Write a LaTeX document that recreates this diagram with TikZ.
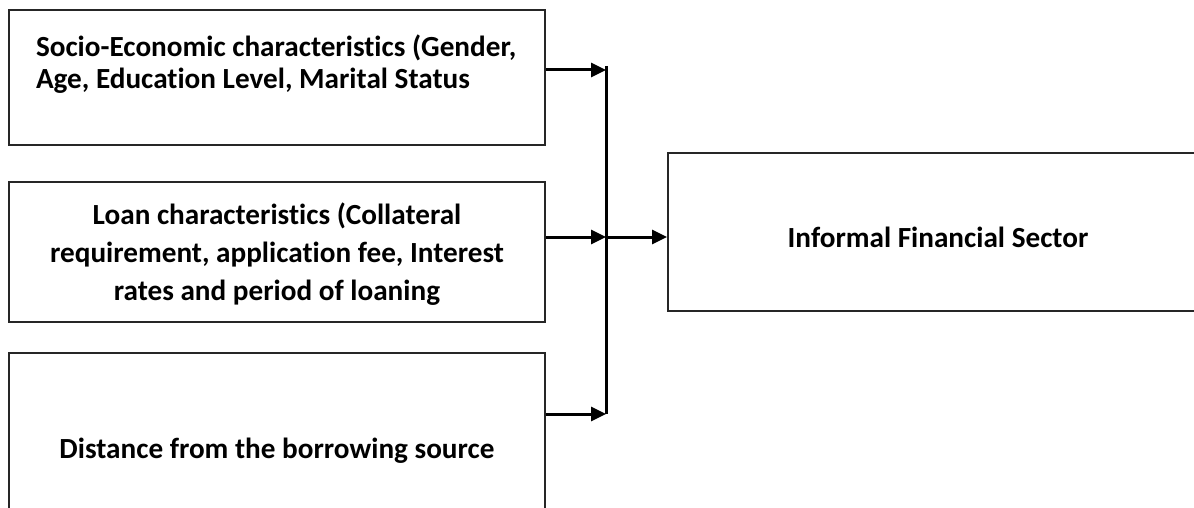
\documentclass[tikz,border=0pt]{standalone}
\usepackage{fontspec}
\setmainfont[Ligatures=NoCommon]{Carlito}
\usetikzlibrary{arrows.meta}

\tikzset{every path/.style={line width=1pt}}
\tikzset{box/.style={draw=black!85, rectangle, inner sep=0pt},
  lbl/.style={font=\bfseries\fontsize{14.6}{16}\selectfont, inner sep=0pt},
  link/.style={-{Triangle[length=7.5pt,width=7pt]}, line width=1.5pt}}

\begin{document}
\begin{tikzpicture}[x=0.5pt,y=-0.5pt]
\useasboundingbox (0,0) rectangle (1194,508);
\node[box, minimum width=268pt, minimum height=67.5pt] (socio) at (277,77.5) {};
\node[box, minimum width=268pt, minimum height=70pt] (loan) at (277,252) {};
\node[box, minimum width=268pt, minimum height=98pt] (dist) at (277,451) {};
\node[box, minimum width=286pt, minimum height=79pt] (info) at (954,232) {};
\node[lbl, align=left, anchor=west] (sociotxt) at (35,64) {Socio-Economic characteristics (Gender,\\Age, Education Level, Marital Status};
\node[lbl, align=center, font=\bfseries\fontsize{14.6}{19}\selectfont] (loantxt) at (277,254) {Loan characteristics (Collateral\\requirement, application fee, Interest\\rates and period of loaning};
\node[lbl] (disttxt) at (277,451) {Distance from the borrowing source};
\node[lbl] (infotxt) at (938,237) {Informal Financial Sector};
% junction points on the bus
\coordinate (j1) at (606,70);
\coordinate (j2) at (606,237);
\coordinate (j3) at (606,414);
\draw[line width=1.5pt] (606,66) -- (606,414);
\draw[link] (socio.east |- j1) -- (j1);
\draw[link] (loan.east |- j2) -- (j2);
\draw[link] (dist.east |- j3) -- (j3);
\draw[link] (j2) -- (info.west |- j2);
\end{tikzpicture}
\end{document}
